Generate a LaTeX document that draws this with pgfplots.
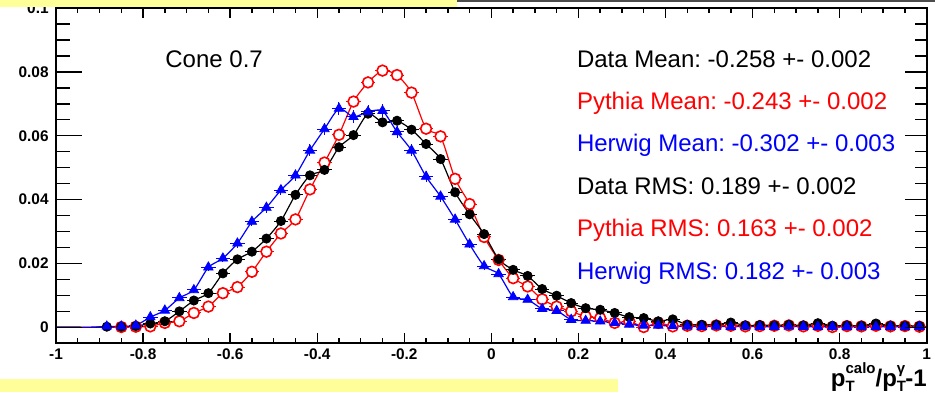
\documentclass[border=0pt]{standalone}
\usepackage{fontspec}
\setmainfont{Liberation Sans}
\usepackage{pgfplots}
\pgfplotsset{compat=1.18}
\usepackage{pgfplotstable}
\frenchspacing

\definecolor{slideyellow}{RGB}{255,255,153}
\definecolor{rootred}{RGB}{255,0,0}
\definecolor{rootblue}{RGB}{0,0,255}

% Data (CDF)
\pgfplotstableread{
x y ey
-1.0 0 0
-0.98333 0 0
-0.95 0 0
-0.91667 0 0
-0.88333 0.0002 0.00005
-0.85 0.0002 0.00005
-0.81667 0.0004 0.00007
-0.78333 0.0012 0.00012
-0.75 0.0019 0.00015
-0.71667 0.0050 0.00025
-0.68333 0.0084 0.00032
-0.65 0.0107 0.00036
-0.61667 0.0169 0.00045
-0.58333 0.0213 0.0005
-0.55 0.0237 0.00054
-0.51667 0.0278 0.00058
-0.48333 0.0333 0.00064
-0.45 0.0415 0.0007
-0.41667 0.0476 0.00076
-0.38333 0.0493 0.00078
-0.35 0.0564 0.00083
-0.31667 0.0602 0.00086
-0.28333 0.0669 0.0009
-0.25 0.0642 0.00089
-0.21667 0.0647 0.00089
-0.18333 0.0619 0.00087
-0.15 0.0574 0.00084
-0.11667 0.0527 0.0008
-0.08333 0.0423 0.00072
-0.05 0.0354 0.00066
-0.01667 0.0292 0.0006
0.01667 0.0213 0.0005
0.05 0.0180 0.00047
0.08333 0.0161 0.00044
0.11667 0.0120 0.00038
0.15 0.0099 0.00035
0.18333 0.0076 0.0003
0.21667 0.0060 0.00027
0.25 0.0055 0.00026
0.28333 0.0045 0.00023
0.31667 0.0032 0.0002
0.35 0.0029 0.00019
0.38333 0.0019 0.00015
0.41667 0.0025 0.00017
0.45 0.0008 0.0001
0.48333 0.0008 0.0001
0.51667 0.0008 0.0001
0.55 0.0015 0.00014
0.58333 0.0006 0.00009
0.61667 0.0007 0.00009
0.65 0.0006 0.00009
0.68333 0.0008 0.0001
0.71667 0.0006 0.00009
0.75 0.0013 0.00013
0.78333 0.0005 0.00008
0.81667 0.0006 0.00009
0.85 0.0005 0.00008
0.88333 0.0012 0.00012
0.91667 0.0005 0.00008
0.95 0.0005 0.00008
0.98333 0.0004 0.00007
}\datatable

% Pythia
\pgfplotstableread{
x y ey
-1.0 0 0
-0.98333 0 0
-0.95 0 0
-0.91667 0 0
-0.88333 0 0
-0.85 0.0001 0.00006
-0.81667 0.0002 0.00009
-0.78333 0.0003 0.00011
-0.75 0.0014 0.00024
-0.71667 0.0019 0.00028
-0.68333 0.0045 0.00044
-0.65 0.0065 0.00052
-0.61667 0.0107 0.00067
-0.58333 0.0126 0.00073
-0.55 0.0174 0.00086
-0.51667 0.0237 0.001
-0.48333 0.0294 0.0011
-0.45 0.0338 0.0012
-0.41667 0.0432 0.00135
-0.38333 0.0516 0.00148
-0.35 0.0603 0.0016
-0.31667 0.0707 0.00173
-0.28333 0.0767 0.0018
-0.25 0.0804 0.00184
-0.21667 0.0790 0.00183
-0.18333 0.0735 0.00176
-0.15 0.0622 0.00162
-0.11667 0.0598 0.00159
-0.08333 0.0465 0.0014
-0.05 0.0386 0.00128
-0.01667 0.0283 0.00109
0.01667 0.0211 0.00094
0.05 0.0154 0.0008
0.08333 0.0128 0.00074
0.11667 0.0088 0.00061
0.15 0.0065 0.00052
0.18333 0.0050 0.00046
0.21667 0.0034 0.00038
0.25 0.0029 0.00035
0.28333 0.0014 0.00024
0.31667 0.0019 0.00028
0.35 0.0001 0.00006
0.38333 0.0014 0.00024
0.41667 0.0003 0.00011
0.45 0.0005 0.00015
0.48333 0.0004 0.00013
0.51667 0.0006 0.00016
0.55 0.0005 0.00015
0.58333 0.0003 0.00011
0.61667 0.0004 0.00013
0.65 0.0005 0.00015
0.68333 0.0006 0.00016
0.71667 0.0003 0.00011
0.75 0.0005 0.00015
0.78333 0.0001 0.00006
0.81667 0.0004 0.00013
0.85 0.0003 0.00011
0.88333 0.0005 0.00015
0.91667 0.0003 0.00011
0.95 0.0004 0.00013
0.98333 0.0002 0.00009
}\pythiatable

% Herwig
\pgfplotstableread{
x y ey
-1.0 0 0
-0.98333 0 0
-0.95 0 0
-0.91667 0 0
-0.88333 0.0003 0.00014
-0.85 0.0003 0.00014
-0.81667 0.0006 0.0002
-0.78333 0.0032 0.00045
-0.75 0.0053 0.00058
-0.71667 0.0092 0.00077
-0.68333 0.0117 0.00087
-0.65 0.0188 0.0011
-0.61667 0.0216 0.00118
-0.58333 0.0263 0.0013
-0.55 0.0331 0.00146
-0.51667 0.0375 0.00155
-0.48333 0.0430 0.00166
-0.45 0.0476 0.00175
-0.41667 0.0554 0.00188
-0.38333 0.0621 0.002
-0.35 0.0685 0.0021
-0.31667 0.0659 0.00205
-0.28333 0.0675 0.00208
-0.25 0.0678 0.00208
-0.21667 0.0612 0.00198
-0.18333 0.0554 0.00188
-0.15 0.0472 0.00174
-0.11667 0.0410 0.00162
-0.08333 0.0338 0.00147
-0.05 0.0260 0.00129
-0.01667 0.0192 0.00111
0.01667 0.0167 0.00103
0.05 0.0095 0.00078
0.08333 0.0087 0.00075
0.11667 0.0058 0.00061
0.15 0.0052 0.00058
0.18333 0.0024 0.00039
0.21667 0.0021 0.00037
0.25 0.0019 0.00035
0.28333 0.0014 0.0003
0.31667 0.0009 0.00024
0.35 0.0006 0.0002
0.38333 0.0006 0.0002
0.41667 0.0004 0.00016
0.45 0.0003 0.00014
0.48333 0.0002 0.00011
0.51667 0.0003 0.00014
0.55 0.0002 0.00011
0.58333 0.0003 0.00014
0.61667 0.0002 0.00011
0.65 0.0002 0.00011
0.68333 0.0003 0.00014
0.71667 0.0002 0.00011
0.75 0.0002 0.00011
0.78333 0.0002 0.00011
0.81667 0.0002 0.00011
0.85 0.0001 0.00008
0.88333 0.0002 0.00011
0.91667 0.0002 0.00011
0.95 0.0001 0.00008
0.98333 0.0002 0.00011
}\herwigtable

\pgfplotsset{
  rootbox/.style={
    at={(28pt,24.35pt)}, anchor=south west,
    scale only axis, width=435.35pt, height=167.65pt,
    xmin=-1, xmax=1, ymin=-0.005, ymax=0.1,
    axis line style={line width=1pt, black},
    tick align=inside,
    tick style={line width=0.7pt, black},
  },
  errstyle/.style={
    error bars/.cd, x dir=both, x fixed=0.016667, y dir=both, y explicit,
    error bar style={line width=0.5pt}, error mark=none,
  },
}

\begin{document}
\begin{tikzpicture}
\useasboundingbox (0,0) rectangle (467.5pt,196pt);

% main axis: data + x ticks
\begin{axis}[rootbox,
  xtick={-1,-0.8,-0.6,-0.4,-0.2,0,0.2,0.4,0.6,0.8,1},
  xticklabels={-1,-0.8,-0.6,-0.4,-0.2,0,0.2,0.4,0.6,0.8,1},
  minor x tick num=3,
  ytick=\empty,
  major tick length=5pt, minor tick length=2.5pt,
  xticklabel style={font=\fontsize{7.7}{8}\selectfont\bfseries, inner sep=0pt},
  xticklabel shift=2.5pt,
]
% lines
\addplot[rootred, line width=0.6pt, smooth, tension=0.4] table[x=x,y=y] {\pythiatable};
\addplot[black, line width=0.6pt, smooth, tension=0.4] table[x=x,y=y] {\datatable};
\addplot[rootblue, line width=0.6pt, smooth, tension=0.4] table[x=x,y=y] {\herwigtable};
% markers
\addplot[rootred, only marks, mark=*, mark size=2.7pt, mark options={line width=0.8pt, draw=rootred, fill=white},
  skip coords between index={0}{5}, errstyle] table[x=x,y=y,y error=ey] {\pythiatable};
\addplot[black, only marks, mark=*, mark size=2.3pt,
  skip coords between index={0}{4}, errstyle] table[x=x,y=y,y error=ey] {\datatable};
\addplot[rootblue, only marks, mark=triangle*, mark size=2.7pt,
  skip coords between index={0}{4}, errstyle] table[x=x,y=y,y error=ey] {\herwigtable};
\end{axis}

% left y ticks with labels
\begin{axis}[rootbox,
  xtick=\empty,
  ytick={0,0.02,0.04,0.06,0.08,0.1},
  yticklabels={0,0.02,0.04,0.06,0.08,0.1},
  ytick pos=left,
  minor y tick num=3,
  major tick length=13pt, minor tick length=7pt,
  yticklabel style={font=\fontsize{7.7}{8}\selectfont\bfseries, inner sep=0pt},
  yticklabel shift=3.5pt,
]
\end{axis}

% right y ticks
\begin{axis}[rootbox,
  xtick=\empty,
  ytick={0,0.02,0.04,0.06,0.08,0.1},
  yticklabels={},
  ytick pos=right,
  minor y tick num=3,
  major tick length=11pt, minor tick length=6pt,
]
\end{axis}

% annotations
\node[anchor=base west, inner sep=0pt, font=\fontsize{12}{14}\selectfont] at (82.5pt,162.5pt) {Cone 0.7};
\begin{scope}[every node/.style={anchor=base west, inner sep=0pt, font=\fontsize{12}{14}\selectfont}]
\node[black]     at (288.3pt,162.5pt) {Data Mean: -0.258 +- 0.002};
\node[rootred]   at (288.3pt,141.5pt) {Pythia Mean: -0.243 +- 0.002};
\node[rootblue]  at (288.3pt,120.5pt) {Herwig Mean: -0.302 +- 0.003};
\node[black]     at (288.3pt,99pt)    {Data RMS: 0.189 +- 0.002};
\node[rootred]   at (288.3pt,78pt)    {Pythia RMS: 0.163 +- 0.002};
\node[rootblue]  at (288.3pt,56.5pt)  {Herwig RMS: 0.182 +- 0.003};
\end{scope}

% axis title
\node[anchor=base east, inner sep=0pt, font=\fontsize{12}{14}\selectfont\bfseries] at (463.5pt,3pt)
  {p\rlap{\raisebox{-0.45ex}{\fontsize{7.5}{8}\selectfont T}}\raisebox{0.95ex}{\fontsize{7.5}{8}\selectfont calo}/p\rlap{\raisebox{-0.45ex}{\fontsize{7.5}{8}\selectfont T}}\raisebox{0.95ex}{\fontsize{7.5}{8}\selectfont γ}-1};

% slide decorations
\fill[slideyellow] (0,192.5pt) rectangle (228.5pt,196pt);
\fill[slideyellow] (0,0) rectangle (309pt,6.5pt);
\draw[gray!60!black, line width=1pt] (228.5pt,195.5pt) -- (467.5pt,195.5pt);
\end{tikzpicture}
\end{document}
